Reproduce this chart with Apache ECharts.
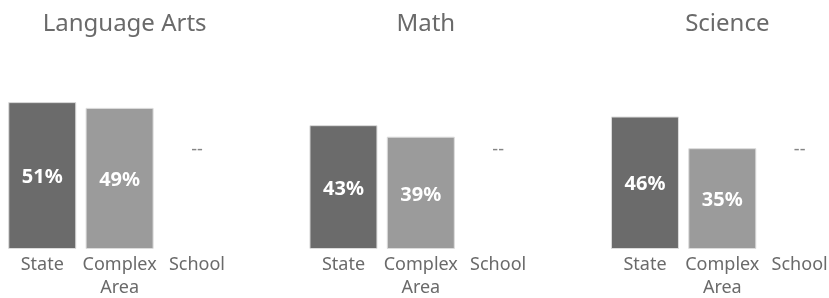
<!DOCTYPE html>
<html>
<head>
<meta charset="utf-8">
<script src="https://cdn.jsdelivr.net/npm/echarts@6/dist/echarts.min.js"></script>
<style>html,body{margin:0;padding:0;background:#fff}#c{width:829px;height:298px}</style>
</head>
<body>
<div id="c"></div>
<script>
const subjects = ['Language Arts', 'Math', 'Science'];
const categories = ['State', 'Complex Area', 'School'];
const stateValues = [51, 43, 46];
const complexValues = [49, 39, 35];
const schoolValues = [null, null, null];
const noDataText = '--';
const noDataLevel = 34.5;

const barColors = ['#6b6b6b', '#9b9b9b', '#9b9b9b'];
const gridLefts = [3.6, 304.8, 606.3];
const gridWidth = 232;
const font = 'Noto Sans';

const chart = echarts.init(document.getElementById('c'), null, {renderer: 'canvas'});

const grids = [], xAxes = [], yAxes = [], series = [], titles = [];
subjects.forEach((s, i) => {
  grids.push({left: gridLefts[i], width: gridWidth, top: 76.2, bottom: 49, outerBoundsMode: 'none', containLabel: false});
  titles.push({
    text: s, left: gridLefts[i] + gridWidth / 2, textAlign: 'center', top: 7,
    textStyle: {fontFamily: font, fontSize: 24, fontWeight: 'normal', color: '#6a6a6a'}
  });
  xAxes.push({
    type: 'category', gridIndex: i, data: categories,
    axisLine: {show: false}, axisTick: {show: false},
    axisLabel: {
      interval: 0, margin: 4, fontFamily: font, fontSize: 18, color: '#6a6a6a', lineHeight: 23,
      formatter: v => v.replace(' ', '\n')
    }
  });
  yAxes.push({
    type: 'value', gridIndex: i, min: 0, max: 60, show: false,
    splitLine: {show: false}
  });
  const vals = [stateValues[i], complexValues[i], schoolValues[i]];
  series.push({
    type: 'bar', xAxisIndex: i, yAxisIndex: i, barWidth: 68,
    data: vals.map((v, j) => ({value: v, itemStyle: {color: barColors[j]}})),
    itemStyle: {borderColor: '#dcdcdc', borderWidth: 1},
    label: {
      show: true, position: 'inside', offset: [0, 2],
      formatter: p => p.value == null ? '' : p.value + '%',
      fontFamily: font, fontSize: 20, fontWeight: 'bold', color: '#fff'
    },
    emphasis: {disabled: true}, animation: false
  });
  series.push({
    type: 'scatter', xAxisIndex: i, yAxisIndex: i, symbolSize: 0,
    data: vals.map((v, j) => v == null ? [categories[j], noDataLevel] : null).filter(d => d),
    label: {
      show: true, position: 'inside', formatter: noDataText,
      fontFamily: font, fontSize: 18, color: '#666'
    },
    emphasis: {disabled: true}, animation: false, silent: true
  });
});

chart.setOption({
  animation: false,
  title: titles,
  grid: grids,
  xAxis: xAxes,
  yAxis: yAxes,
  series: series
});
</script>
</body>
</html>
